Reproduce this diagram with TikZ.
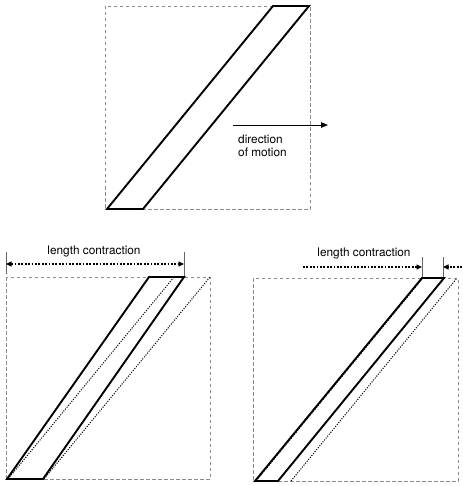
\documentclass[tikz,border=0pt]{standalone}
\usepackage{fontspec}
\setmainfont{TeX Gyre Heros}
\usetikzlibrary{arrows.meta}
\begin{document}
\begin{tikzpicture}[x=1pt,y=-1pt,
  frame/.style={draw=black!45, dash pattern=on 3.5pt off 2.5pt, line width=0.8pt},
  rod/.style={draw=black, line width=1.9pt, line join=miter},
  ghost/.style={draw=black, line width=1pt, dash pattern=on 1.1pt off 1.4pt},
  dimtick/.style={draw=black!60, line width=0.8pt},
  dimline/.style={draw=black, line width=1.1pt, dash pattern=on 1.8pt off 1.6pt},
  tip/.style={-{Triangle[length=5.5pt,width=5pt]}},
  lbl/.style={font=\fontsize{11.8}{13}\selectfont, inner sep=0pt}
]
\useasboundingbox (0,0) rectangle (462,486);

% ---------- top panel ----------
\coordinate (A1) at (105,6);
\coordinate (A2) at (310,209);
\draw[frame] (A1) rectangle (A2);
\coordinate (a1) at (107,209);
\coordinate (a2) at (143,209);
\coordinate (a3) at (309,6);
\coordinate (a4) at (273,6);
\draw[rod] (a1) -- (a2) -- (a3) -- (a4) -- cycle;
\coordinate (m1) at (233,125);
\coordinate (m2) at (328,125);
\draw[-{Triangle[length=7pt,width=5.5pt]}, line width=0.9pt] (m1) -- (m2);
\node[lbl, anchor=base west] (d1) at (238,144) {direction};
\node[lbl, anchor=base west] (d2) at (238,157) {of motion};

% ---------- bottom left ----------
\coordinate (B1) at (6,277);
\coordinate (B2) at (210,479);
\draw[frame] (B1) rectangle (B2);
\coordinate (g1) at (8,479);
\coordinate (g2) at (174,277);
\coordinate (g3) at (44,479);
\coordinate (g4) at (210,277);
\draw[ghost] (g1) -- (g2);
\draw[ghost] (g3) -- (g4);
\coordinate (b1) at (7,479);
\coordinate (b2) at (43,479);
\coordinate (b3) at (184,277);
\coordinate (b4) at (149,277);
\draw[rod] (b1) -- (b2) -- (b3) -- (b4) -- cycle;
\coordinate (t1a) at (6,252);
\coordinate (t1b) at (6,274);
\coordinate (t2a) at (184,252);
\coordinate (t2b) at (184,276);
\draw[dimtick] (t1a) -- (t1b);
\draw[dimtick] (t2a) -- (t2b);
\coordinate (l1) at (6,264);
\coordinate (l2) at (184,264);
\draw[dimline, {Triangle[length=5.5pt,width=5pt]}-{Triangle[length=5.5pt,width=5pt]}] (l1) -- (l2);
\node[lbl, anchor=base] (lc1) at (94,254) {length contraction};

% ---------- bottom right ----------
\coordinate (C1) at (253,278);
\coordinate (C2) at (458,481);
\draw[frame] (C1) rectangle (C2);
\coordinate (h1) at (256,481);
\coordinate (h2) at (423,278);
\coordinate (h3) at (291,481);
\coordinate (h4) at (457,278);
\draw[ghost] (h1) -- (h2);
\draw[ghost] (h3) -- (h4);
\coordinate (c1) at (255,481);
\coordinate (c2) at (278,481);
\coordinate (c3) at (444,278);
\coordinate (c4) at (422,278);
\draw[rod] (c1) -- (c2) -- (c3) -- (c4) -- cycle;
\coordinate (r1a) at (422,257);
\coordinate (r1b) at (422,277);
\coordinate (r2a) at (443,257);
\coordinate (r2b) at (443,277);
\draw[dimtick] (r1a) -- (r1b);
\draw[dimtick] (r2a) -- (r2b);
\coordinate (k1) at (303,267);
\coordinate (k2) at (422,267);
\coordinate (k3) at (462,267);
\coordinate (k4) at (443,267);
\draw[dimline, tip] (k1) -- (k2);
\draw[dimline, tip] (k3) -- (k4);
\node[lbl, anchor=base] (lc2) at (364,256) {length contraction};
\end{tikzpicture}
\end{document}
